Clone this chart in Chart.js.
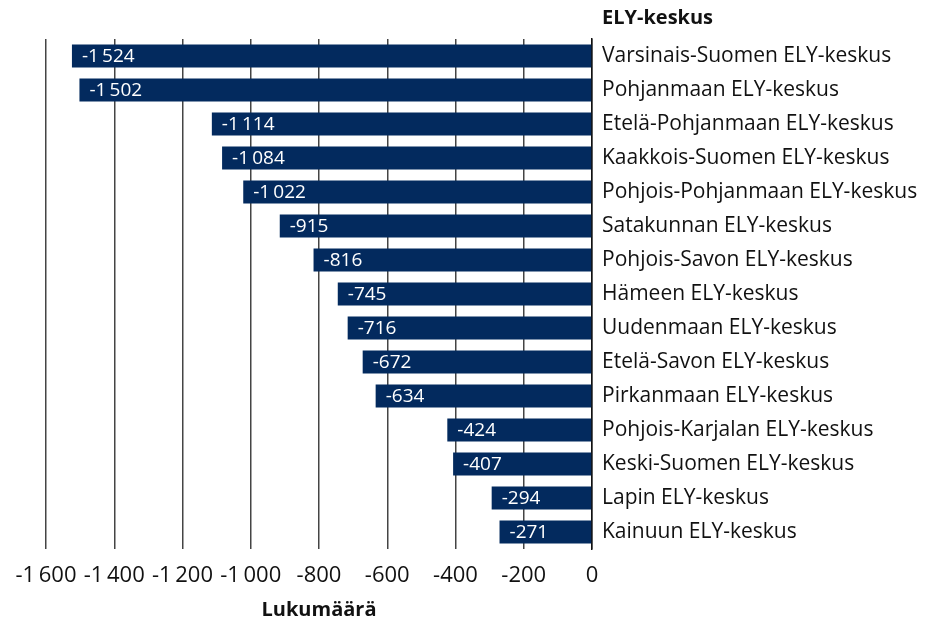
<!DOCTYPE html>
<html>
<head>
<meta charset="utf-8">
<script src="https://cdn.jsdelivr.net/npm/chart.js@4"></script>
<style>
  html, body { margin: 0; padding: 0; background: #fff; }
  #wrap { width: 925px; height: 622px; }
</style>
</head>
<body>
<div id="wrap"><canvas id="elyChart"></canvas></div>
<script>
const categories = [
  'Varsinais-Suomen ELY-keskus',
  'Pohjanmaan ELY-keskus',
  'Etelä-Pohjanmaan ELY-keskus',
  'Kaakkois-Suomen ELY-keskus',
  'Pohjois-Pohjanmaan ELY-keskus',
  'Satakunnan ELY-keskus',
  'Pohjois-Savon ELY-keskus',
  'Hämeen ELY-keskus',
  'Uudenmaan ELY-keskus',
  'Etelä-Savon ELY-keskus',
  'Pirkanmaan ELY-keskus',
  'Pohjois-Karjalan ELY-keskus',
  'Keski-Suomen ELY-keskus',
  'Lapin ELY-keskus',
  'Kainuun ELY-keskus'
];
const values = [-1524, -1502, -1114, -1084, -1022, -915, -816, -745, -716, -672, -634, -424, -407, -294, -271];
const xMin = -1600;
const xMax = 0;
const xStep = 200;

const axisTitle = 'ELY-keskus';
const valueTitle = 'Lukumäärä';
const barColor = '#032a5e';

function fmt(v) {
  const sign = v < 0 ? '-' : '';
  const s = String(Math.abs(v));
  return sign + s.replace(/\B(?=(\d{3})+(?!\d))/g, '\u2009');
}

// white value labels inside the left end of each bar + title above category labels
const barLabels = {
  id: 'barLabels',
  afterDatasetsDraw(chart) {
    const ctx = chart.ctx;
    const meta = chart.getDatasetMeta(0);
    ctx.save();
    ctx.fillStyle = '#ffffff';
    ctx.font = '19px "Open Sans", sans-serif';
    ctx.textAlign = 'left';
    ctx.textBaseline = 'middle';
    meta.data.forEach((bar, i) => {
      ctx.fillText(fmt(values[i]), bar.x + 10, bar.y + 1);
    });
    ctx.fillStyle = '#111';
    ctx.font = 'bold 20px "Open Sans", sans-serif';
    ctx.fillText(axisTitle, chart.chartArea.right + 10, 18);
    ctx.restore();
  }
};

new Chart(document.getElementById('elyChart'), {
  type: 'bar',
  data: {
    labels: categories,
    datasets: [{
      data: values,
      backgroundColor: barColor,
      barPercentage: 0.68,
      categoryPercentage: 1
    }]
  },
  options: {
    indexAxis: 'y',
    responsive: true,
    maintainAspectRatio: false,
    animation: false,
    layout: {
      padding: { left: 46, top: 39, right: 0, bottom: 0 }
    },
    plugins: {
      legend: { display: false },
      tooltip: { enabled: false }
    },
    scales: {
      x: {
        min: xMin,
        max: xMax,
        ticks: {
          stepSize: xStep,
          padding: 14,
          color: '#111',
          font: { family: '"Open Sans", sans-serif', size: 22 },
          callback: v => fmt(v)
        },
        grid: {
          color: '#444',
          lineWidth: 1.5,
          drawTicks: false
        },
        border: { display: false },
        title: {
          display: true,
          text: valueTitle,
          color: '#111',
          font: { family: '"Open Sans", sans-serif', size: 20, weight: 'bold' },
          padding: { top: 2, bottom: 0 }
        },
        afterFit(scale) { scale.height = 73; }
      },
      y: {
        position: 'right',
        ticks: {
          padding: 10,
          color: '#111',
          font: { family: '"Open Sans", sans-serif', size: 21 }
        },
        grid: { display: false, drawTicks: false },
        border: { display: true, color: '#111', width: 1.5 },
        afterFit(scale) { scale.width = 333; }
      }
    }
  },
  plugins: [barLabels]
});
</script>
</body>
</html>
